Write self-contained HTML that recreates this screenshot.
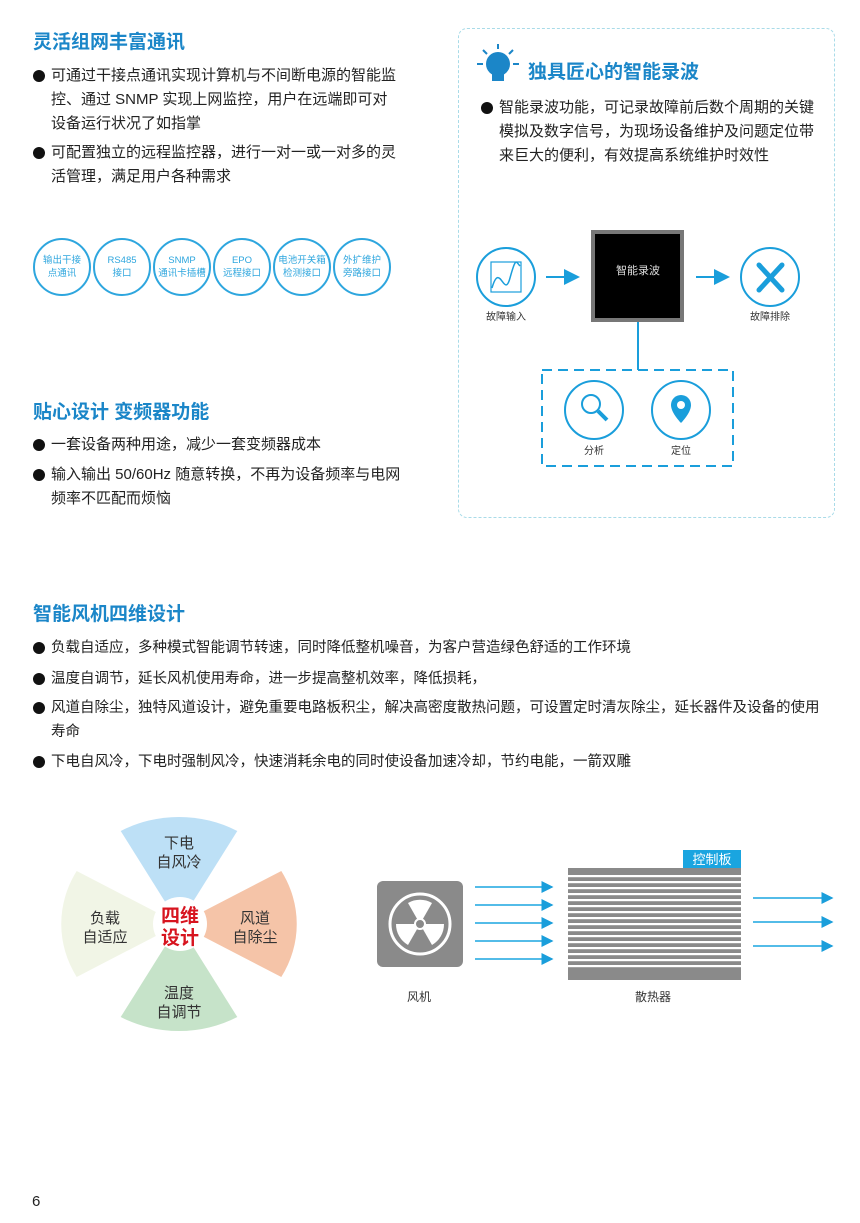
<!DOCTYPE html>
<html><head><meta charset="utf-8"><style>
body{margin:0;width:860px;height:1223px;background:#fff;position:relative;font-family:"Liberation Sans","Noto Sans CJK SC",sans-serif;color:#222;overflow:hidden}
.a{position:absolute}
h2{position:absolute;margin:0;font-size:19px;font-weight:bold;color:#1b86c8;font-family:"Liberation Sans","Noto Sans CJK SC",sans-serif}
.p{position:absolute;font-size:14.5px;line-height:24px;padding-left:18px}
.p:before{content:"";position:absolute;left:0;top:6px;width:12px;height:12px;border-radius:50%;background:#111}
.c{position:absolute;width:54px;height:54px;border:2px solid #2ea6de;border-radius:50%;color:#2ea6de;font-size:9.5px;line-height:13px;text-align:center;display:flex;align-items:center;justify-content:center}
</style></head><body>
<h2 style="left:33px;top:27px">灵活组网丰富通讯</h2>
<div class="p" style="left:33px;top:64px;width:348px;font-size:15px">可通过干接点通讯实现计算机与不间断电源的智能监控、通过 SNMP 实现上网监控，用户在远端即可对设备运行状况了如指掌</div>
<div class="p" style="left:33px;top:141px;width:357px;font-size:15px">可配置独立的远程监控器，进行一对一或一对多的灵活管理，满足用户各种需求</div>
<div class="c" style="left:33px;top:238px">输出干接<br>点通讯</div>
<div class="c" style="left:93px;top:238px">RS485<br>接口</div>
<div class="c" style="left:153px;top:238px">SNMP<br>通讯卡插槽</div>
<div class="c" style="left:213px;top:238px">EPO<br>远程接口</div>
<div class="c" style="left:273px;top:238px">电池开关箱<br>检测接口</div>
<div class="c" style="left:333px;top:238px">外扩维护<br>旁路接口</div>

<h2 style="left:33px;top:397px">贴心设计 变频器功能</h2>
<div class="p" style="left:33px;top:433px;width:357px;font-size:15px">一套设备两种用途，减少一套变频器成本</div>
<div class="p" style="left:33px;top:463px;width:357px;font-size:15px">输入输出 50/60Hz 随意转换，不再为设备频率与电网频率不匹配而烦恼</div>

<div class="a" style="left:458px;top:28px;width:375px;height:488px;border:1.5px dashed #a9dbe8;border-radius:9px"></div>
<svg class="a" style="left:476px;top:42px" width="44" height="44" viewBox="0 0 44 44"><g stroke="#1b86c8" stroke-width="2"><line x1="22" y1="2" x2="22" y2="7"/><line x1="7" y1="8" x2="11" y2="12"/><line x1="37" y1="8" x2="33" y2="12"/><line x1="1" y1="22" x2="7" y2="22"/><line x1="37" y1="22" x2="43" y2="22"/></g><circle cx="22" cy="22" r="12" fill="#1b86c8"/><rect x="16" y="32" width="12" height="7" fill="#1b86c8"/></svg>
<h2 style="left:528px;top:57px">独具匠心的智能录波</h2>
<div class="p" style="left:481px;top:96px;width:318px;font-size:15px">智能录波功能，可记录故障前后数个周期的关键模拟及数字信号，为现场设备维护及问题定位带来巨大的便利，有效提高系统维护时效性</div>

<svg class="a" style="left:0;top:0" width="860" height="1223">
<defs><marker id="ar" markerWidth="8" markerHeight="8" refX="7" refY="4" orient="auto"><path d="M0,0L8,4L0,8z" fill="#1a9edb"/></marker></defs>
<g stroke="#1a9edb" fill="none" stroke-width="2">
<circle cx="506" cy="277" r="29"/><circle cx="770" cy="277" r="29"/>
<circle cx="594" cy="410" r="29"/><circle cx="681" cy="410" r="29"/>
<line x1="546" y1="277" x2="578" y2="277" marker-end="url(#ar)"/>
<line x1="696" y1="277" x2="728" y2="277" marker-end="url(#ar)"/>
<line x1="638" y1="322" x2="638" y2="370"/>
<rect x="542" y="370" width="191" height="96" stroke-dasharray="10,6"/>
<rect x="491" y="262" width="30" height="30" stroke-width="1.2"/>
<path d="M492,288 C500,260 504,300 510,278 S516,262 520,266" stroke-width="1.5"/>
<circle cx="591" cy="404" r="9"/><line x1="598" y1="411" x2="607" y2="420" stroke-width="4"/>
</g>
<path d="M681,395 a10,10 0 0 1 10,10 c0,8 -10,18 -10,18 c0,0 -10,-10 -10,-18 a10,10 0 0 1 10,-10z" fill="#1a9edb"/><circle cx="681" cy="405" r="4" fill="#fff"/>
<g stroke="#1a9edb" stroke-width="5" stroke-linecap="round"><line x1="759" y1="265" x2="782" y2="290"/><line x1="782" y1="265" x2="759" y2="290"/></g>
<rect x="591" y="230" width="93" height="92" fill="#777"/><rect x="595" y="234" width="85" height="84" fill="#000"/>
<text x="638" y="274" fill="#ddd" font-size="11" text-anchor="middle">智能录波</text>
<text x="506" y="320" fill="#333" font-size="10" text-anchor="middle">故障输入</text>
<text x="770" y="320" fill="#333" font-size="10" text-anchor="middle">故障排除</text>
<text x="594" y="454" fill="#333" font-size="10" text-anchor="middle">分析</text>
<text x="681" y="454" fill="#333" font-size="10" text-anchor="middle">定位</text>

<g transform="translate(179,924) scale(1.1,1)">
<path d="M0,0 L-53,-93 A107,107 0 0 1 53,-93 Z" fill="#bde0f6"/>
<path d="M0,0 L-53,-93 A107,107 0 0 1 53,-93 Z" transform="rotate(90)" fill="#f5c4a8"/>
<path d="M0,0 L-53,-93 A107,107 0 0 1 53,-93 Z" transform="rotate(180)" fill="#c6e3c9"/>
<path d="M0,0 L-53,-93 A107,107 0 0 1 53,-93 Z" transform="rotate(270)" fill="#f1f5e6"/>
</g>
<circle cx="180" cy="924" r="27" fill="#fff"/>
<g font-size="15" fill="#333" text-anchor="middle">
<text x="179" y="848">下电</text><text x="179" y="867">自风冷</text>
<text x="105" y="923">负载</text><text x="105" y="942">自适应</text>
<text x="255" y="923">风道</text><text x="255" y="942">自除尘</text>
<text x="179" y="998">温度</text><text x="179" y="1017">自调节</text>
</g>
<text x="180" y="922" font-size="19" font-weight="bold" fill="#d7141f" text-anchor="middle">四维</text>
<text x="180" y="944" font-size="19" font-weight="bold" fill="#d7141f" text-anchor="middle">设计</text>

<rect x="377" y="881" width="86" height="86" rx="6" fill="#8a8a8a"/>
<circle cx="420" cy="924" r="30" fill="none" stroke="#fff" stroke-width="3"/>
<g fill="#fff"><path d="M420,924 L408,903 A24,24 0 0 1 432,903z"/><path d="M420,924 L444,924 A24,24 0 0 1 432,945z"/><path d="M420,924 L408,945 A24,24 0 0 1 396,924z"/></g>
<circle cx="420" cy="924" r="5" fill="#8a8a8a" stroke="#fff" stroke-width="2"/>
<g stroke="#1aa5e0" stroke-width="1.5" marker-end="url(#ar)">
<line x1="475" y1="887" x2="552" y2="887"/><line x1="475" y1="905" x2="552" y2="905"/><line x1="475" y1="923" x2="552" y2="923"/><line x1="475" y1="941" x2="552" y2="941"/><line x1="475" y1="959" x2="552" y2="959"/>
<line x1="753" y1="898" x2="832" y2="898"/><line x1="753" y1="922" x2="832" y2="922"/><line x1="753" y1="946" x2="832" y2="946"/>
</g>
<rect x="568" y="868" width="173" height="112" fill="#8a8a8a"/>
<g fill="#fff">
<rect x="568" y="875" width="173" height="2.2"/><rect x="568" y="881" width="173" height="2.2"/><rect x="568" y="887" width="173" height="2.2"/><rect x="568" y="893" width="173" height="2.2"/><rect x="568" y="899" width="173" height="2.2"/><rect x="568" y="905" width="173" height="2.2"/><rect x="568" y="911" width="173" height="2.2"/><rect x="568" y="917" width="173" height="2.2"/><rect x="568" y="923" width="173" height="2.2"/><rect x="568" y="929" width="173" height="2.2"/><rect x="568" y="935" width="173" height="2.2"/><rect x="568" y="941" width="173" height="2.2"/><rect x="568" y="947" width="173" height="2.2"/><rect x="568" y="953" width="173" height="2.2"/><rect x="568" y="959" width="173" height="2.2"/><rect x="568" y="965" width="173" height="2.2"/>
</g>
<rect x="683" y="850" width="58" height="18" fill="#1aa5e0"/>
<text x="712" y="864" fill="#fff" font-size="13" text-anchor="middle">控制板</text>
<text x="419" y="1001" fill="#333" font-size="12" text-anchor="middle">风机</text>
<text x="653" y="1001" fill="#333" font-size="12" text-anchor="middle">散热器</text>
<text x="32" y="1206" fill="#222" font-size="15">6</text>
</svg>

<h2 style="left:33px;top:599px">智能风机四维设计</h2>
<div class="p" style="left:33px;top:636px;width:786px">负载自适应，多种模式智能调节转速，同时降低整机噪音，为客户营造绿色舒适的工作环境</div>
<div class="p" style="left:33px;top:667px;width:786px">温度自调节，延长风机使用寿命，进一步提高整机效率，降低损耗，</div>
<div class="p" style="left:33px;top:696px;width:772px">风道自除尘，独特风道设计，避免重要电路板积尘，解决高密度散热问题，可设置定时清灰除尘，延长器件及设备的使用寿命</div>
<div class="p" style="left:33px;top:750px;width:786px">下电自风冷，下电时强制风冷，快速消耗余电的同时使设备加速冷却，节约电能，一箭双雕</div>
</body></html>
